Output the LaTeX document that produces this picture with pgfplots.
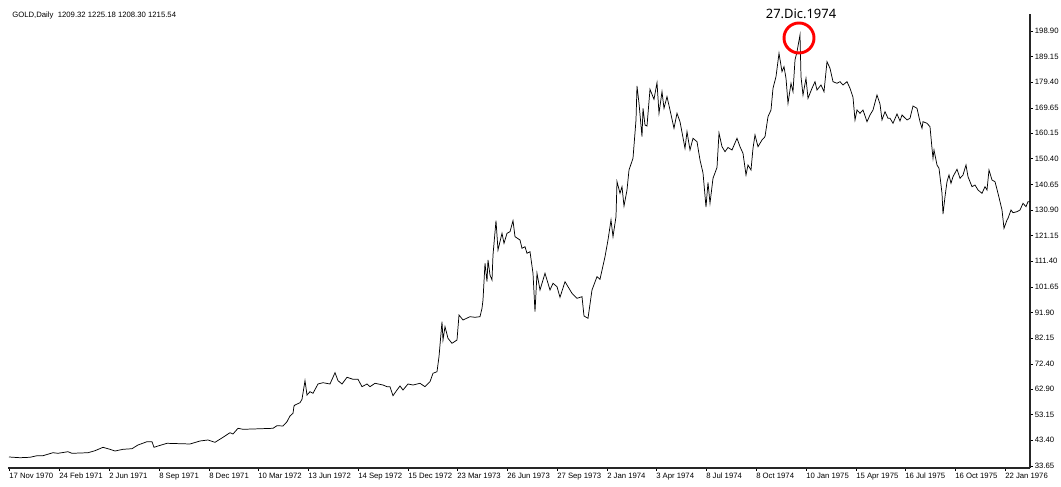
\documentclass[border=0pt]{standalone}
\usepackage{pgfplots}
\pgfplotsset{compat=1.18}
\usepackage{fontspec}
\setmainfont{Liberation Sans}
\newfontfamily\notosans{Noto Sans}

% GOLD daily close, x = bar position (chart pixels), y = price
\pgfplotstableread{
x y
9 37.07
20 36.80
30 36.96
37 37.56
43 37.56
53 38.70
58 38.47
68 39.08
72 38.47
88 38.70
95 39.46
103 40.75
110 39.99
115 39.35
123 39.99
132 40.22
138 41.63
147 42.88
152 42.88
154 40.75
158 41.25
167 42.27
190 42.01
200 43.15
208 43.53
215 42.65
223 44.55
230 46.30
233 45.81
238 47.97
243 47.59
253 47.71
273 47.97
277 48.96
283 48.85
287 50.48
290 52.65
293 53.67
294 56.44
295 56.82
300 57.70
302 58.99
305 66.06
307 60.62
310 61.88
313 61.27
318 64.80
323 65.30
330 64.80
335 69.09
338 66.06
342 64.80
347 67.35
353 66.59
358 66.59
362 63.78
367 64.80
370 63.78
375 65.07
383 64.42
387 63.78
390 63.78
393 60.36
397 62.52
400 64.04
403 62.52
408 64.80
413 64.42
420 65.07
425 63.78
430 65.68
433 68.87
437 69.47
439 75.17
442 88.47
443 81.52
445 86.57
448 82.16
452 80.26
457 81.52
459 91.01
463 89.12
470 90.37
475 90.14
480 90.37
482 93.56
483 96.71
485 110.66
487 103.67
488 111.91
490 106.21
492 104.31
493 113.81
496 126.84
498 115.71
502 122.05
504 118.25
507 122.05
510 122.66
513 126.84
515 120.76
520 119.51
522 116.35
525 116.96
527 114.46
530 115.06
533 106.86
535 92.27
537 106.86
540 100.51
545 106.86
550 100.51
553 103.06
557 101.77
560 97.74
565 103.67
568 101.77
572 99.26
577 97.36
582 97.97
584 90.64
588 89.76
592 100.51
597 105.57
600 104.58
605 113.16
608 119.51
611 127.11
613 120.76
616 128.36
617 141.66
620 137.25
622 139.76
624 132.42
627 138.50
629 146.10
633 150.55
636 165.10
637 178.01
639 171.44
642 158.75
643 169.54
645 163.20
647 162.82
650 176.76
654 172.96
657 179.27
659 167.64
662 175.85
664 169.54
667 173.95
670 168.89
674 161.94
677 167.64
680 164.45
685 154.34
687 160.65
690 153.70
693 158.14
697 156.85
700 149.90
703 145.00
706 132.04
708 141.35
710 133.45
713 142.95
717 147.05
719 160.16
722 154.95
725 153.05
728 154.65
732 153.70
737 158.14
740 154.95
743 152.44
746 144.20
748 148.00
751 146.10
753 154.34
755 159.40
758 154.95
762 157.50
765 158.75
768 166.35
771 168.89
773 177.14
776 181.55
779 190.44
782 183.44
784 185.34
786 180.94
788 171.44
791 179.04
793 175.85
795 187.89
797 191.04
800 197.39
801 181.55
803 174.59
806 180.94
808 173.34
812 177.14
815 179.65
817 176.49
821 178.39
824 175.85
827 187.24
830 184.74
833 179.65
837 179.04
840 179.65
843 178.39
847 179.65
850 177.14
853 173.72
855 165.10
857 168.89
860 167.64
863 168.89
867 164.45
870 166.99
873 168.89
877 174.59
880 171.17
882 165.10
885 168.25
888 165.74
890 165.74
893 163.84
897 167.37
900 164.72
902 166.99
907 165.10
910 165.74
913 170.41
917 169.54
920 164.45
922 161.94
923 164.45
927 163.84
930 162.55
932 154.34
933 150.55
934 153.70
937 148.00
939 146.75
942 137.25
943 129.38
945 135.96
947 141.66
949 144.20
951 141.05
953 143.56
957 146.37
960 142.95
963 144.20
966 148.00
968 143.56
972 139.76
975 140.40
978 138.50
982 137.25
985 139.76
987 138.50
989 146.10
992 142.30
995 141.66
998 137.25
1002 130.90
1004 123.95
1007 127.11
1008 127.75
1011 130.90
1013 129.88
1017 130.26
1020 130.90
1023 133.45
1026 132.16
1028 134.06
1030 134.06
}\gold

\begin{document}
\begin{tikzpicture}
\useasboundingbox (-6pt,-13.5pt) rectangle (789.75pt,351pt);
\begin{axis}[
  at={(0pt,0pt)}, anchor=south west,
  scale only axis, width=766.5pt, height=340.5pt,
  xmin=8, xmax=1030, ymin=32.89, ymax=205.36,
  axis x line=bottom, axis y line=right,
  axis line style={-, line width=0.8pt, black!85},
  tick align=outside, major tick length=2.3pt,
  tick style={black, line width=0.6pt},
  xtick={9,59,109,159,209,258,308,358,408,457,507,557,607,656,706,756,806,856,905,955,1005},
  xticklabels={17 Nov 1970,24 Feb 1971,2 Jun 1971,8 Sep 1971,8 Dec 1971,10 Mar 1972,13 Jun 1972,14 Sep 1972,15 Dec 1972,23 Mar 1973,26 Jun 1973,27 Sep 1973,2 Jan 1974,3 Apr 1974,8 Jul 1974,8 Oct 1974,10 Jan 1975,15 Apr 1975,16 Jul 1975,16 Oct 1975,22 Jan 1976},
  ytick={33.65,43.40,53.15,62.90,72.40,82.15,91.90,101.65,111.40,121.15,130.90,140.65,150.40,160.15,169.65,179.40,189.15,198.90},
  yticklabels={33.65,43.40,53.15,62.90,72.40,82.15,91.90,101.65,111.40,121.15,130.90,140.65,150.40,160.15,169.65,179.40,189.15,198.90},
  ticklabel style={font=\fontsize{5.8}{6}\selectfont, inner sep=0pt},
  xticklabel style={anchor=north west, yshift=-1.5pt},
  yticklabel style={anchor=west, xshift=1.2pt},
  clip=false,
]
\addplot[black, line width=0.55pt, no markers, sharp plot] table[x=x, y=y] {\gold};
\draw[red, line width=2.2pt] (axis cs:799,196.25) circle[radius=11.25pt];
\end{axis}
\node[anchor=west, inner sep=0pt, font=\fontsize{5.8}{6}\selectfont] at (3pt,339.4pt) {GOLD,Daily\ \ 1209.32 1225.18 1208.30 1215.54};
\node[inner sep=0pt, font=\notosans\fontsize{9.7}{11}\selectfont] at (594.75pt,340.5pt) {27.Dic.1974};
\end{tikzpicture}
\end{document}
